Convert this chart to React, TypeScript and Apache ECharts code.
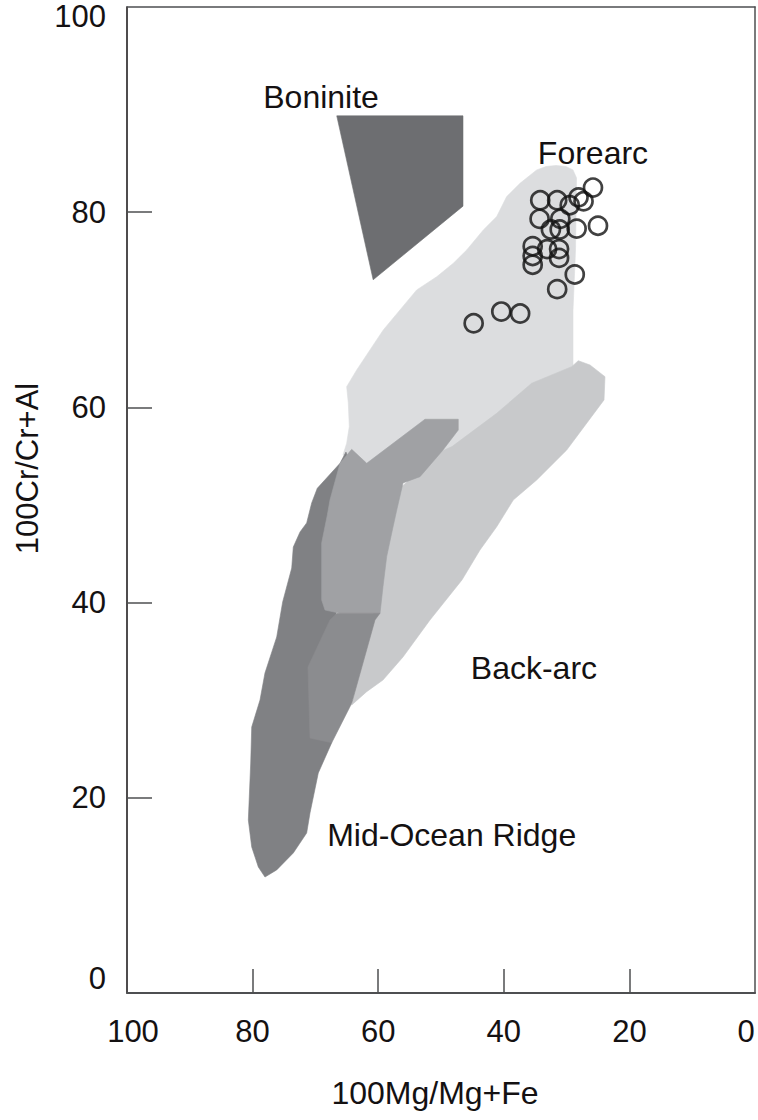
import React, { useEffect, useRef } from "react";
import * as echarts from "echarts";

// ---- axis values ----
const xLabelValues = [100, 80, 60, 40, 20, 0];
const xTickValues = [80, 60, 40, 20];
const yLabelValues = [0, 20, 40, 60, 80, 100];
const yTickValues = [20, 40, 60, 80];

// ---- sample data (100Mg/Mg+Fe, 100Cr/Cr+Al) ----
const mgNumber = [34.2, 31.5, 28.1, 27.3, 25.8, 29.5, 34.3, 31.0, 32.5, 31.1, 28.4, 25.0, 35.4, 35.4, 35.4, 33.1, 31.2, 31.2, 28.7, 31.5, 40.4, 37.4, 44.8];
const crNumber = [81.2, 81.2, 81.5, 81.1, 82.5, 80.7, 79.3, 79.3, 78.2, 78.2, 78.3, 78.6, 76.5, 75.5, 74.6, 76.2, 76.2, 75.3, 73.6, 72.1, 69.8, 69.6, 68.6];

// ---- field outlines [Mg#, Cr#] ----
const boniniteField = [[66.6, 89.85], [46.5, 89.85], [46.5, 80.6], [60.8, 73.06]];

const forearcField = [
  [34.76, 84.31], [33.28, 84.66], [31.69, 84.77], [30.1, 84.66], [28.98, 84.31], [28.42, 83.49],
  [28.58, 76.11], [28.98, 69.97], [28.98, 64.03], [35.51, 61.77], [41.08, 58.7], [48.25, 55.11],
  [52.55, 55.11], [61.78, 53.99], [65.61, 55.11], [65.02, 56.31], [64.6, 58.02], [64.76, 60.44],
  [65.02, 62.11], [63.42, 63.82], [61.31, 65.87], [59.19, 67.92], [56.53, 69.97], [53.87, 72.02],
  [50.68, 73.37], [48.04, 74.75], [45.91, 76.11], [43.26, 78.16], [41.13, 79.53], [39.54, 81.58],
  [37.42, 82.94],
];

const backArcField = [
  [28.14, 64.77], [26.27, 64.33], [23.89, 63.13], [24.04, 60.75], [29.98, 55.62], [34.76, 52.55],
  [38.49, 50.5], [41.13, 47.76], [43.79, 45.38], [46.66, 42.31], [51.75, 38.21], [56.05, 34.42],
  [59.24, 32.06], [61.83, 30.87], [64.22, 29.5], [62.1, 36.17], [60.03, 40.26], [58.12, 47.43],
  [56.85, 51.52], [50.16, 55.42], [48.25, 55.97], [41.13, 59.38], [35.56, 62.46], [29.19, 64.16],
];

const midOceanRidgeField = [
  [65.13, 55.42], [64.17, 53.57], [65.29, 44.36], [66.88, 38.21], [68.95, 30.01], [67.4, 25.64],
  [69.54, 22.54], [70.86, 18.44], [71.39, 16.39], [73.52, 14.34], [76.16, 12.61], [78.03, 11.88],
  [79.09, 12.91], [80.14, 14.96], [80.68, 17.72], [80.3, 23.56], [80.14, 27.25], [78.82, 30.01],
  [78.03, 32.78], [76.16, 36.47], [75.21, 40.06], [73.77, 43.53], [73.52, 45.68], [72.45, 47.22],
  [71.39, 48.15], [70.59, 50.2], [69.7, 51.7], [66.08, 54.26],
];

const transitionField = [
  [64.22, 55.69], [61.83, 54.26], [52.55, 58.77], [47.25, 58.77], [47.25, 57.67], [49.68, 55.62],
  [53.34, 52.89], [56.05, 52.25], [57.05, 49.47], [57.85, 47.12], [58.65, 44.7], [59.24, 41.62],
  [59.71, 38.9], [66.08, 38.9], [68.47, 39.23], [69.0, 40.26], [69.0, 46.1], [68.1, 48.96],
  [67.68, 50.5], [66.08, 54.26],
];

const overlapField = [
  [66.56, 38.9], [59.71, 38.9], [60.51, 38.21], [64.22, 29.67], [67.4, 25.64], [70.86, 26.12],
  [71.18, 33.39], [67.68, 38.21],
];

// ---- field names and where they sit ----
const fieldNames = ["Boninite", "Forearc", "Back-arc", "Mid-Ocean Ridge"];
const fieldNameMg = [69.1, 25.8, 35.2, 48.3];
const fieldNameCr = [91.8, 86.0, 33.3, 16.2];

const FONT = '"Liberation Sans", Arial, Helvetica, sans-serif';
const INK = "#141112";
const FRAME = "#4e4f51";

export default function App() {
  const ref = useRef<HTMLDivElement>(null);

  useEffect(() => {
    if (!ref.current) return;
    const chart = echarts.init(ref.current, null, { renderer: "svg" });

    const fields = [forearcField, backArcField, midOceanRidgeField, transitionField, overlapField, boniniteField];
    const fieldColors = ["#dcdddf", "#c8c9cb", "#808184", "#a0a1a4", "#8b8c8f", "#6d6e71"];

    chart.setOption({
      animation: false,
      backgroundColor: "#ffffff",
      textStyle: { fontFamily: FONT },
      grid: { left: 127, top: 7, width: 628, height: 986, containLabel: false },
      xAxis: [
        {
          type: "value",
          min: 0,
          max: 100,
          inverse: true,
          position: "bottom",
          name: "100Mg/Mg+Fe",
          nameLocation: "middle",
          nameGap: 84,
          nameTextStyle: { fontSize: 32, color: INK, fontFamily: FONT, padding: [0, 12, 0, 0] },
          axisLine: { show: true, onZero: false, lineStyle: { color: FRAME, width: 2 } },
          axisTick: { show: true, inside: true, length: 24, customValues: xTickValues, lineStyle: { color: FRAME, width: 1.5 } },
          axisLabel: {
            show: true,
            customValues: xLabelValues,
            margin: 23,
            fontSize: 31,
            color: INK,
            fontFamily: FONT,
            formatter: (v: number) => (v === 0 ? "{r|0}" : v === 100 ? "{l|100}" : String(v)),
            rich: {
              r: { padding: [0, 18, 0, 0], fontSize: 31, color: INK, fontFamily: FONT },
              l: { padding: [0, 0, 0, 12], fontSize: 31, color: INK, fontFamily: FONT },
            },
          },
          splitLine: { show: false },
        },
        {
          type: "value",
          min: 0,
          max: 100,
          inverse: true,
          position: "top",
          axisLine: { show: true, onZero: false, lineStyle: { color: FRAME, width: 1.5 } },
          axisTick: { show: false },
          axisLabel: { show: false },
          splitLine: { show: false },
        },
      ],
      yAxis: [
        {
          type: "value",
          min: 0,
          max: 101,
          position: "left",
          name: "100Cr/Cr+Al",
          nameLocation: "middle",
          nameGap: 82,
          nameTextStyle: { fontSize: 31, color: INK, fontFamily: FONT, padding: [0, 0, 0, 63] },
          axisLine: { show: true, onZero: false, lineStyle: { color: INK, width: 1.5 } },
          axisTick: { show: true, inside: true, length: 25, customValues: yTickValues, lineStyle: { color: FRAME, width: 1.5 } },
          axisLabel: {
            show: true,
            customValues: yLabelValues,
            margin: 21,
            fontSize: 31,
            lineHeight: 30,
            color: INK,
            fontFamily: FONT,
            formatter: (v: number) => (v === 0 ? "0\n\u00a0" : v % 20 === 0 ? String(v) : ""),
          },
          splitLine: { show: false },
        },
        {
          type: "value",
          min: 0,
          max: 101,
          position: "right",
          axisLine: { show: true, onZero: false, lineStyle: { color: FRAME, width: 1.5 } },
          axisTick: { show: false },
          axisLabel: { show: false },
          splitLine: { show: false },
        },
      ],
      series: [
        {
          type: "custom",
          xAxisIndex: 0,
          yAxisIndex: 0,
          silent: true,
          z: 1,
          data: fields.map((f) => f[0]),
          renderItem: (params: any, api: any) => {
            const i = params.dataIndex;
            const pts = fields[i].map((p) => api.coord(p));
            return {
              type: "polygon",
              shape: { points: pts },
              style: { fill: fieldColors[i], stroke: fieldColors[i], lineWidth: 0.6 },
            };
          },
        },
        {
          type: "scatter",
          xAxisIndex: 0,
          yAxisIndex: 0,
          silent: true,
          z: 3,
          symbol: "circle",
          symbolSize: 18,
          itemStyle: { color: "rgba(0,0,0,0)", borderColor: "#111111", borderWidth: 2.7 },
          data: mgNumber.map((m, i) => [m, crNumber[i]]),
        },
        {
          type: "scatter",
          xAxisIndex: 0,
          yAxisIndex: 0,
          silent: true,
          z: 4,
          symbol: "circle",
          symbolSize: 1,
          itemStyle: { color: "rgba(0,0,0,0)" },
          label: {
            show: true,
            position: "inside",
            opacity: 1,
            fontSize: 32,
            color: INK,
            fontFamily: FONT,
            formatter: (p: any) => fieldNames[p.dataIndex],
          },
          data: fieldNameMg.map((m, i) => [m, fieldNameCr[i]]),
        },
      ],
    });

    return () => chart.dispose();
  }, []);

  return (
    <div
      ref={ref}
      style={{ position: "fixed", left: 0, top: 0, width: 758, height: 1120, background: "#ffffff" }}
    />
  );
}
